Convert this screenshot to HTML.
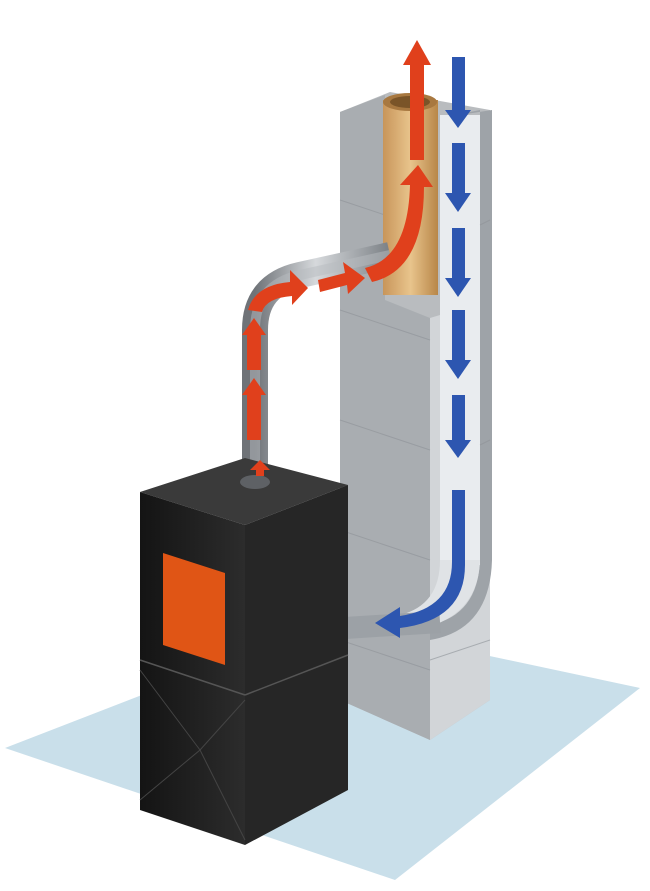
<!DOCTYPE html>
<html><head><style>html,body{margin:0;padding:0;background:#fff;width:650px;height:891px;overflow:hidden}</style></head>
<body>
<svg width="650" height="891" viewBox="0 0 650 891" xmlns="http://www.w3.org/2000/svg">
<defs>
<linearGradient id="pipe" x1="0" x2="1"><stop offset="0" stop-color="#6f7378"/><stop offset=".45" stop-color="#d6d9dc"/><stop offset="1" stop-color="#7b8085"/></linearGradient>
<linearGradient id="liner" x1="0" x2="1"><stop offset="0" stop-color="#c8955a"/><stop offset=".5" stop-color="#e8c48c"/><stop offset="1" stop-color="#b88648"/></linearGradient>
<linearGradient id="blk" x1="0" x2="1"><stop offset="0" stop-color="#141414"/><stop offset="1" stop-color="#2c2c2c"/></linearGradient>
</defs>
<!-- floor -->
<polygon points="5,748 330,622 640,688 395,880" fill="#c9dfea"/>
<!-- chimney -->
<polygon points="340,112 390,92 490,110 490,700 430,740 340,700" fill="#b9bcbf"/>
<polygon points="340,112 385,95 385,300 430,318 430,740 340,700" fill="#a9adb1"/>
<polygon points="430,318 490,300 490,700 430,740" fill="#d2d5d8"/>
<!-- channel cutout -->
<path d="M440,118 L480,110 L480,560 Q478,615 430,625 L430,640 Q490,630 492,560 L492,110" fill="#9ea3a8"/>
<rect x="440" y="115" width="40" height="450" fill="#e9ecef"/>
<path d="M440,560 Q440,605 400,615 L400,632 Q478,625 480,560 Z" fill="#e0e3e6"/>
<!-- block lines -->
<g stroke="#8e9297" stroke-width="1" opacity=".6">
<line x1="340" y1="200" x2="385" y2="215"/><line x1="340" y1="310" x2="430" y2="340"/>
<line x1="340" y1="420" x2="430" y2="450"/><line x1="340" y1="530" x2="430" y2="560"/>
<line x1="340" y1="640" x2="430" y2="670"/><line x1="490" y1="220" x2="480" y2="225"/>
<line x1="490" y1="440" x2="480" y2="445"/><line x1="490" y1="640" x2="430" y2="660"/>
</g>
<!-- liner -->
<rect x="383" y="100" width="55" height="195" fill="url(#liner)"/>
<ellipse cx="410" cy="102" rx="27" ry="9" fill="#a87840"/>
<ellipse cx="410" cy="102" rx="20" ry="6" fill="#7a5428"/>
<!-- pipe -->
<path d="M255,485 L255,330 Q255,285 300,275 L390,255" fill="none" stroke="url(#pipe)" stroke-width="26"/>
<path d="M255,485 L255,330 Q255,285 300,275 L390,255" fill="none" stroke="#b7bbbf" stroke-width="10" opacity=".5"/>
<!-- lower pipe to chimney -->
<path d="M345,628 L440,622" stroke="#9ca1a6" stroke-width="22"/>
<!-- stove -->
<polygon points="140,492 245,458 348,485 245,525" fill="#3a3a3a"/>
<polygon points="140,492 245,525 245,845 140,810" fill="url(#blk)"/>
<polygon points="245,525 348,485 348,790 245,845" fill="#262626"/>
<line x1="140" y1="660" x2="245" y2="695" stroke="#555" stroke-width="1.5"/>
<line x1="245" y1="695" x2="348" y2="655" stroke="#555" stroke-width="1.5"/>
<polyline points="140,670 200,750 140,800" fill="none" stroke="#444"/>
<polyline points="245,700 200,750 245,840" fill="none" stroke="#444"/>
<polygon points="163,553 225,573 225,665 163,645" fill="#e05515"/>
<ellipse cx="255" cy="482" rx="15" ry="7" fill="#5e6165"/>
<!-- red arrows -->
<g fill="#e0401c">
<polygon points="250,470 260,460 270,470 264,470 264,476 256,476 256,470"/>
<rect x="247" y="395" width="14" height="45"/><polygon points="242,395 254,378 266,395"/>
<rect x="247" y="335" width="14" height="35"/><polygon points="242,335 254,318 266,335"/>
<path d="M248,310 Q255,285 290,282 L290,270 L308,288 L292,305 L292,296 Q266,298 262,312 Z"/>
<polygon points="318,280 345,273 343,262 365,278 348,294 347,285 320,292"/>
<path d="M365,268 Q408,258 410,185 L400,185 L418,165 L433,187 L424,187 Q424,270 372,282 Z"/>
<rect x="410" y="65" width="14" height="95"/><polygon points="403,65 417,40 431,65"/>
</g>
<!-- blue arrows -->
<g fill="#2d56b0">
<rect x="452" y="57" width="13" height="55"/><polygon points="445,110 458,128 471,110"/>
<rect x="452" y="143" width="13" height="50"/><polygon points="445,193 458,212 471,193"/>
<rect x="452" y="228" width="13" height="50"/><polygon points="445,278 458,297 471,278"/>
<rect x="452" y="310" width="13" height="50"/><polygon points="445,360 458,379 471,360"/>
<rect x="452" y="395" width="13" height="45"/><polygon points="445,440 458,458 471,440"/>
<path d="M452,490 L465,490 L465,565 Q465,620 400,628 L400,638 L375,623 L400,607 L400,616 Q452,608 452,562 Z"/>
</g>
</svg>
</body></html>
